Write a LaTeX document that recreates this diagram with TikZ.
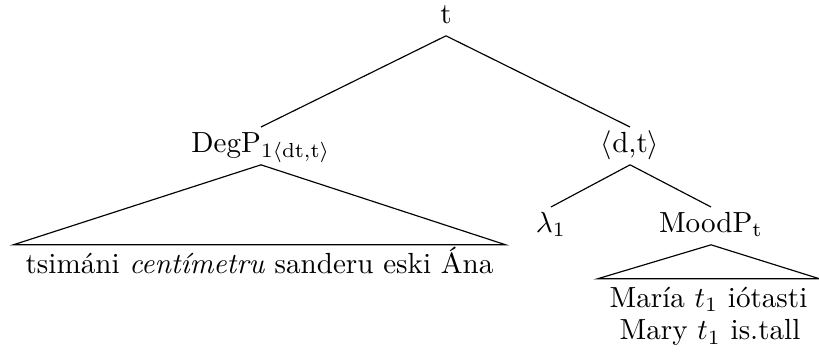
\documentclass[tikz,border=0pt]{standalone}
\usepackage{amsmath}
\usepackage{amssymb}
\usepackage{tikz}
\usetikzlibrary{positioning}
\newcommand{\ty}[1]{\langle\text{#1}\rangle}
\newcommand{\tr}{t_1}
\tikzset{
   every path/.style={line width=0.4pt},
   cat/.style={inner sep=2pt, text height=6.4pt, text depth=2.2pt, anchor=base},
   yield/.style={inner xsep=4pt, inner ysep=0pt, text height=9.5pt, anchor=base},
}
\begin{document}
\begin{tikzpicture}
\useasboundingbox (0,0) rectangle (9.891,-4.263);
\begin{scope}[every node/.style={cat}]
  \node (root) at (5.386,-0.278) {t};
  \node (degp) at (3.152,-1.836) {DegP$_{1\ty{dt,t}}$};
  \node (dt) at (7.609,-1.836) {$\ty{d,t}$};
  \node (lam) at (6.654,-2.802) {$\lambda_1$};
  \node (moodp) at (8.587,-2.802) {MoodP$_\mathrm{t}$};
\end{scope}
\begin{scope}[every node/.style={yield}]
  \node (degyield) at (3.134,-3.297) {tsimáni \textit{centímetru} sanderu eski Ána};
  \node (moodyield) at (8.557,-3.708) {María $\tr$ iótasti};
  \node (gloss) at (8.575,-4.106) {Mary $\tr$ is.tall};
\end{scope}
\draw (root.south) -- (degp.north);
\draw (root.south) -- (dt.north);
\draw (dt.south) -- (lam.north);
\draw (dt.south) -- (moodp.north);
% triangles
\draw (degp.south) -- (degyield.north west) -- (degyield.north east) -- cycle;
\draw (moodp.south) -- (moodyield.north west) -- (moodyield.north east) -- cycle;
\end{tikzpicture}
\end{document}
